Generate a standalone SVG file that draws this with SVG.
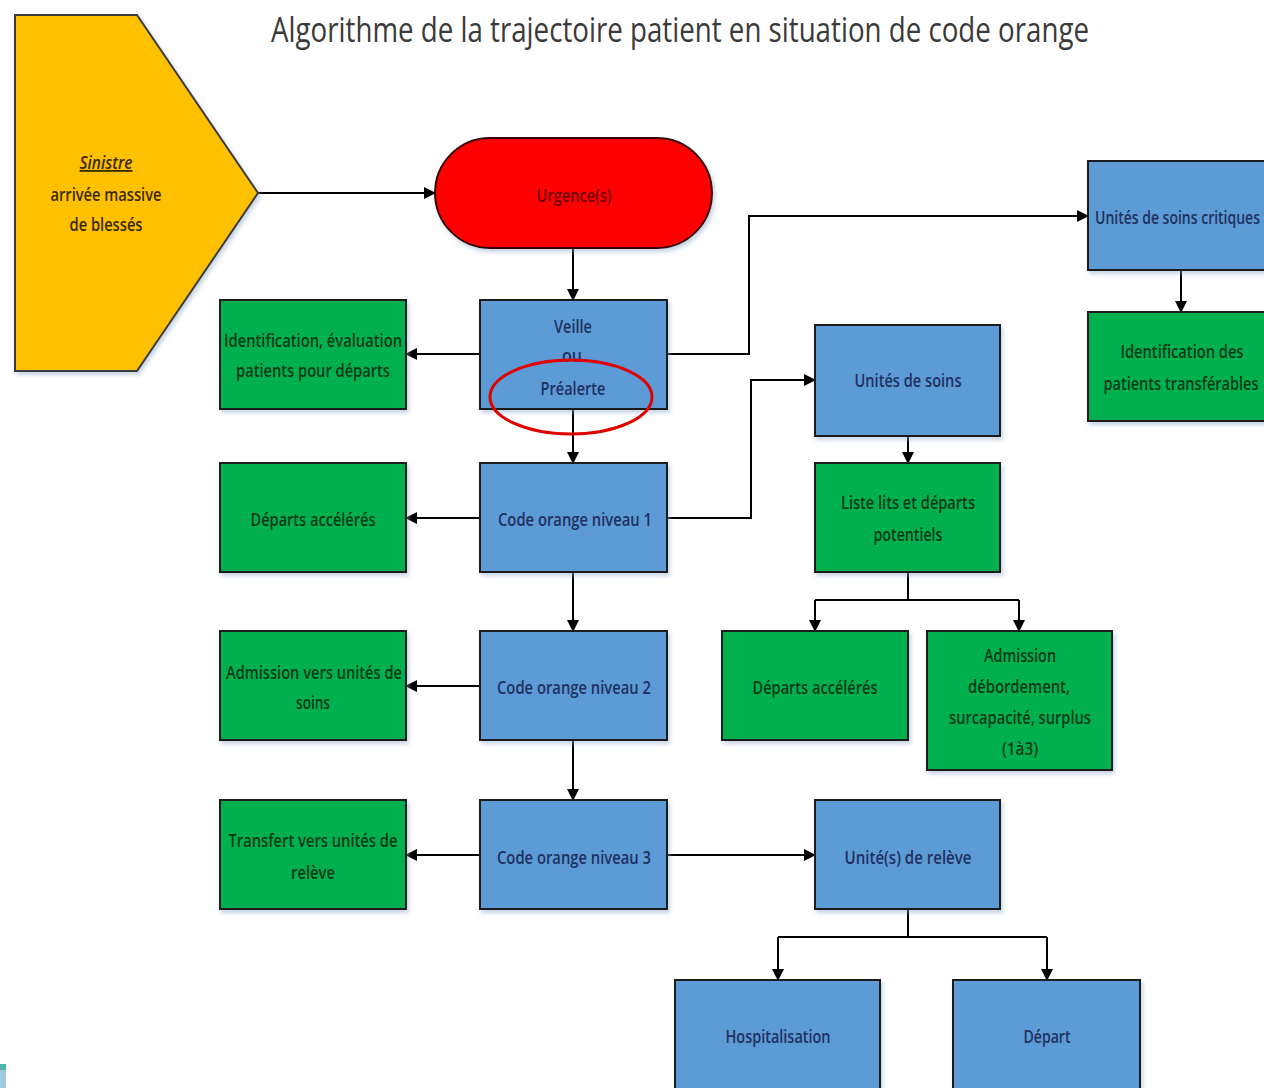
<svg xmlns="http://www.w3.org/2000/svg" width="1264" height="1088" viewBox="0 0 1264 1088">
<defs>
<marker id="ah" markerWidth="12" markerHeight="12" refX="11" refY="6" orient="auto" markerUnits="userSpaceOnUse">
<path d="M0,0 L12,6 L0,12 Z" fill="#000"/>
</marker>
<filter id="sh" x="-5%" y="-5%" width="115%" height="115%">
<feDropShadow dx="2" dy="3" stdDeviation="2" flood-color="#8fa8c8" flood-opacity="0.5"/>
</filter>
</defs>
<style>
text{font-family:"Open Sans","Liberation Sans",Arial,sans-serif;text-anchor:middle;font-size:18px;font-weight:600}
.blue{fill:#5B9BD5;stroke:#1b1b1b;stroke-width:2;filter:url(#sh)}
.green{fill:#00B050;stroke:#1b1b1b;stroke-width:2;filter:url(#sh)}
.tb{fill:#1F3060}
.tg{fill:#0B3A17}
.conn{fill:none;stroke:#000;stroke-width:2}
.arr{marker-end:url(#ah)}
</style>
<rect width="1264" height="1088" fill="#fff"/>
<text x="680" y="42" style="font-size:35px;font-weight:400;fill:#3a3a3a" textLength="818" lengthAdjust="spacingAndGlyphs">Algorithme de la trajectoire patient en situation de code orange</text>
<rect x="0" y="1064" width="6" height="24" fill="#9fc9dc"/>
<rect x="0" y="1064" width="6" height="6" fill="#4fb3b0"/>

<g id="connectors">
<path class="conn arr" d="M258,193 H435"/>
<path class="conn arr" d="M573,248 V300"/>
<path class="conn arr" d="M480,354 H406"/>
<path class="conn arr" d="M667,354 H749 V216 H1088"/>
<path class="conn arr" d="M1181,270 V312"/>
<path class="conn arr" d="M573,409 V463"/>
<path class="conn arr" d="M480,518 H406"/>
<path class="conn arr" d="M667,518 H751 V380 H815"/>
<path class="conn arr" d="M908,436 V463"/>
<path class="conn" d="M908,572 V600 M815,600 H1019"/>
<path class="conn arr" d="M815,600 V631"/>
<path class="conn arr" d="M1019,600 V631"/>
<path class="conn arr" d="M573,572 V631"/>
<path class="conn arr" d="M480,686 H406"/>
<path class="conn arr" d="M573,740 V800"/>
<path class="conn arr" d="M480,855 H406"/>
<path class="conn arr" d="M667,855 H815"/>
<path class="conn" d="M908,909 V937 M778,937 H1047"/>
<path class="conn arr" d="M778,937 V980"/>
<path class="conn arr" d="M1047,937 V980"/>
</g>

<g id="sinistre">
<polygon points="15,15 137,15 258,193 137,371 15,371" fill="#FFC000" stroke="#3a3a3a" stroke-width="2" filter="url(#sh)"/>
<text x="106" y="169" style="font-style:italic;fill:#3a2a00" text-decoration="underline" textLength="53" lengthAdjust="spacingAndGlyphs">Sinistre</text>
<text x="106" y="201" style="fill:#3a2a00" textLength="111" lengthAdjust="spacingAndGlyphs">arrivée massive</text>
<text x="106" y="231" style="fill:#3a2a00" textLength="73" lengthAdjust="spacingAndGlyphs">de blessés</text>
</g>

<g id="urgences">
<rect x="435" y="138" width="277" height="110" rx="55" ry="55" fill="#FF0000" stroke="#3a0000" stroke-width="2" filter="url(#sh)"/>
<text x="574" y="202" style="fill:#6e0000" textLength="75" lengthAdjust="spacingAndGlyphs">Urgence(s)</text>
</g>

<g id="veille">
<rect class="blue" x="480" y="300" width="187" height="109"/>
<text class="tb" x="573" y="333" textLength="38" lengthAdjust="spacingAndGlyphs">Veille</text>
<text class="tb" x="572" y="362" textLength="20" lengthAdjust="spacingAndGlyphs">ou</text>
<text class="tb" x="573" y="395" textLength="65" lengthAdjust="spacingAndGlyphs">Préalerte</text>
</g>
<ellipse cx="571" cy="397" rx="81" ry="37" fill="none" stroke="#E00000" stroke-width="3"/>

<g id="identification">
<rect class="green" x="220" y="300" width="186" height="109"/>
<text class="tg" x="313" y="347" textLength="178" lengthAdjust="spacingAndGlyphs">Identification, évaluation</text>
<text class="tg" x="313" y="377" textLength="154" lengthAdjust="spacingAndGlyphs">patients pour départs</text>
</g>

<g id="soins-critiques">
<rect class="blue" x="1088" y="161" width="180" height="109"/>
<text class="tb" x="1095" y="224" style="text-anchor:start" textLength="165" lengthAdjust="spacingAndGlyphs">Unités de soins critiques</text>
</g>

<g id="transferables">
<rect class="green" x="1088" y="312" width="180" height="109"/>
<text class="tg" x="1182" y="358" textLength="123" lengthAdjust="spacingAndGlyphs">Identification des</text>
<text class="tg" x="1181" y="390" textLength="155" lengthAdjust="spacingAndGlyphs">patients transférables</text>
</g>

<g id="code1">
<rect class="blue" x="480" y="463" width="187" height="109"/>
<text class="tb" x="575" y="526" textLength="154" lengthAdjust="spacingAndGlyphs">Code orange niveau 1</text>
</g>

<g id="departs1">
<rect class="green" x="220" y="463" width="186" height="109"/>
<text class="tg" x="313" y="526" textLength="125" lengthAdjust="spacingAndGlyphs">Départs accélérés</text>
</g>

<g id="unites-soins">
<rect class="blue" x="815" y="325" width="185" height="111"/>
<text class="tb" x="908" y="387" textLength="107" lengthAdjust="spacingAndGlyphs">Unités de soins</text>
</g>

<g id="liste-lits">
<rect class="green" x="815" y="463" width="185" height="109"/>
<text class="tg" x="908" y="509" textLength="134" lengthAdjust="spacingAndGlyphs">Liste lits et départs</text>
<text class="tg" x="908" y="541" textLength="69" lengthAdjust="spacingAndGlyphs">potentiels</text>
</g>

<g id="departs2">
<rect class="green" x="722" y="631" width="186" height="109"/>
<text class="tg" x="815" y="694" textLength="125" lengthAdjust="spacingAndGlyphs">Départs accélérés</text>
</g>

<g id="admission-debordement">
<rect class="green" x="927" y="631" width="185" height="139"/>
<text class="tg" x="1020" y="662" textLength="72" lengthAdjust="spacingAndGlyphs">Admission</text>
<text class="tg" x="1019" y="693" textLength="102" lengthAdjust="spacingAndGlyphs">débordement,</text>
<text class="tg" x="1020" y="724" textLength="142" lengthAdjust="spacingAndGlyphs">surcapacité, surplus</text>
<text class="tg" x="1020" y="755" textLength="36" lengthAdjust="spacingAndGlyphs">(1à3)</text>
</g>

<g id="code2">
<rect class="blue" x="480" y="631" width="187" height="109"/>
<text class="tb" x="574" y="694" textLength="154" lengthAdjust="spacingAndGlyphs">Code orange niveau 2</text>
</g>

<g id="admission-unites">
<rect class="green" x="220" y="631" width="186" height="109"/>
<text class="tg" x="314" y="679" textLength="176" lengthAdjust="spacingAndGlyphs">Admission vers unités de</text>
<text class="tg" x="313" y="709" textLength="34" lengthAdjust="spacingAndGlyphs">soins</text>
</g>

<g id="code3">
<rect class="blue" x="480" y="800" width="187" height="109"/>
<text class="tb" x="574" y="864" textLength="154" lengthAdjust="spacingAndGlyphs">Code orange niveau 3</text>
</g>

<g id="transfert">
<rect class="green" x="220" y="800" width="186" height="109"/>
<text class="tg" x="313" y="847" textLength="169" lengthAdjust="spacingAndGlyphs">Transfert vers unités de</text>
<text class="tg" x="313" y="879" textLength="44" lengthAdjust="spacingAndGlyphs">relève</text>
</g>

<g id="releve">
<rect class="blue" x="815" y="800" width="185" height="109"/>
<text class="tb" x="908" y="864" textLength="127" lengthAdjust="spacingAndGlyphs">Unité(s) de relève</text>
</g>

<g id="hospitalisation">
<rect class="blue" x="675" y="980" width="205" height="120"/>
<text class="tb" x="778" y="1043" textLength="105" lengthAdjust="spacingAndGlyphs">Hospitalisation</text>
</g>

<g id="depart">
<rect class="blue" x="953" y="980" width="187" height="120"/>
<text class="tb" x="1047" y="1043" textLength="47" lengthAdjust="spacingAndGlyphs">Départ</text>
</g>
</svg>
